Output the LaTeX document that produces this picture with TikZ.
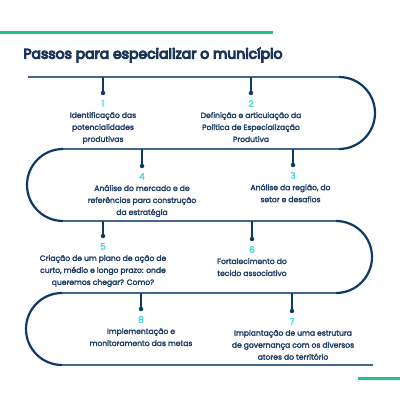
\documentclass[tikz,border=0pt]{standalone}
\usepackage{fontspec}
\setmainfont{Poppins}
\newfontfamily\headfont{Poppins}[FakeBold=7]
\newfontfamily\stepfont{Poppins}[FakeBold=2.6]
\newfontfamily\numfont{Poppins}[FakeBold=2]
\usetikzlibrary{positioning}
\definecolor{navy}{HTML}{0F3A66}
\definecolor{steel}{HTML}{44678F}
\definecolor{textblue}{HTML}{223F66}
\definecolor{aqua}{HTML}{3DD9E0}
\definecolor{mint}{HTML}{22C485}

\begin{document}
\begin{tikzpicture}[x=1pt, y=1pt,
        pathline/.style={draw=steel, line width=1.6pt},
        turnarc/.style={draw=navy, line width=2.2pt},
        stem/.style={draw=navy, line width=1.4pt},
        dotmark/.style={circle, fill=navy, inner sep=0pt, minimum size=4.5pt},
        num/.style={text=aqua, font=\numfont\fontsize{9}{10}\selectfont, inner sep=1pt},
        steptext/.style={text=textblue, font=\stepfont\fontsize{7.6}{12}\selectfont, align=center, inner sep=0pt},
        title/.style={text=textblue!85!black, font=\headfont\fontsize{14}{16}\selectfont, inner sep=0pt}
    ]
    \fill[white] (0,0) rectangle (400,400);
    \useasboundingbox (0,0) rectangle (400,400);

    % Green bars and title
    \draw[mint, line width=3pt] (0,367.3) -- (273,367.3);
    \draw[mint, line width=3pt] (358,21.7) -- (400,21.7);
    \node[title] (title) at (153,345) {Passos para especializar o município};

    % Serpentine path
    \coordinate (row1w) at (28,323);
    \coordinate (row1e) at (339,323);
    \coordinate (row2e) at (339,251);
    \coordinate (row2w) at (63,251);
    \coordinate (row3w) at (63,179);
    \coordinate (row3e) at (336,179);
    \coordinate (row4e) at (336,107);
    \coordinate (row4w) at (62,107);
    \coordinate (row5w) at (62,35);
    \coordinate (row5e) at (373,35);
    \draw[pathline] (row1w) -- (row1e);
    \draw[pathline] (row2e) -- (row2w);
    \draw[pathline] (row3w) -- (row3e);
    \draw[pathline] (row4e) -- (row4w);
    \draw[pathline] (row5w) -- (row5e);
    \draw[turnarc] (row1e) arc[start angle=90, end angle=-90, radius=36];
    \draw[turnarc] (row2w) arc[start angle=90, end angle=270, radius=36];
    \draw[turnarc] (row3e) arc[start angle=90, end angle=-90, radius=36];
    \draw[turnarc] (row4w) arc[start angle=90, end angle=270, radius=36];

    % Step 1
    \coordinate (t1) at (103,323);
    \node[dotmark] (d1) at (103,307) {};
    \draw[stem] (t1) -- (d1.center);
    \node[num, below=3.5pt of d1] (n1) {1};
    \node[steptext, below=4pt of n1] (s1) {Identificação das\\potencialidades\\produtivas};

    % Step 2
    \coordinate (t2) at (251,323);
    \node[dotmark] (d2) at (251,307) {};
    \draw[stem] (t2) -- (d2.center);
    \node[num, below=3.5pt of d2] (n2) {2};
    \node[steptext, below=4pt of n2] (s2) {Definição e articulação da\\Política de Especialização\\Produtiva};

    % Step 3
    \coordinate (t3) at (293,251);
    \node[dotmark] (d3) at (293,235) {};
    \draw[stem] (t3) -- (d3.center);
    \node[num, below=3.5pt of d3] (n3) {3};
    \node[steptext, below=4pt of n3, xshift=-2.5pt] (s3) {Análise da região, do\\setor e desafios};

    % Step 4
    \coordinate (t4) at (142,251);
    \node[dotmark] (d4) at (142,234) {};
    \draw[stem] (t4) -- (d4.center);
    \node[num, below=3.5pt of d4] (n4) {4};
    \node[steptext, below=4pt of n4] (s4) {Análise do mercado e de\\referências para construção\\da estratégia};

    % Step 5
    \coordinate (t5) at (103,179);
    \node[dotmark] (d5) at (103,164) {};
    \draw[stem] (t5) -- (d5.center);
    \node[num, below=3.5pt of d5] (n5) {5};
    \node[steptext, below=4pt of n5] (s5) {Criação de um plano de ação de\\curto, médio e longo prazo: onde\\queremos chegar? Como?};

    % Step 6
    \coordinate (t6) at (252,179);
    \node[dotmark] (d6) at (252,161) {};
    \draw[stem] (t6) -- (d6.center);
    \node[num, below=3.5pt of d6] (n6) {6};
    \node[steptext, below=4pt of n6] (s6) {Fortalecimento do\\tecido associativo};

    % Step 7
    \coordinate (t7) at (292,107);
    \node[dotmark] (d7) at (292,89) {};
    \draw[stem] (t7) -- (d7.center);
    \node[num, below=3.5pt of d7] (n7) {7};
    \node[steptext, below=4pt of n7, xshift=1pt] (s7) {Implantação de uma estrutura\\de governança com os diversos\\atores do território};

    % Step 8
    \coordinate (t8) at (141,107);
    \node[dotmark] (d8) at (141,91) {};
    \draw[stem] (t8) -- (d8.center);
    \node[num, below=3.5pt of d8] (n8) {8};
    \node[steptext, below=4pt of n8] (s8) {Implementação e\\monitoramento das metas};
\end{tikzpicture}
\end{document}
